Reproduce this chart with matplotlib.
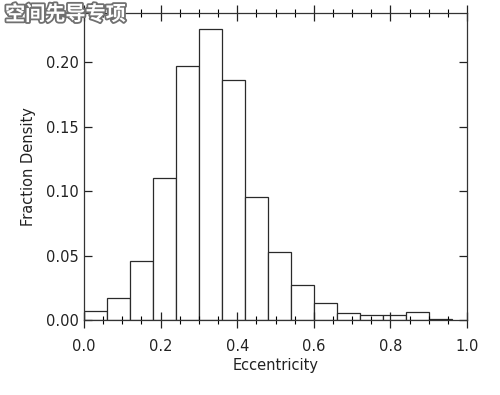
import matplotlib
matplotlib.use("Agg")
import matplotlib.pyplot as plt
import matplotlib.patheffects as pe
from matplotlib.ticker import MultipleLocator
import numpy as np

bin_edges = [0.00, 0.06, 0.12, 0.18, 0.24, 0.30, 0.36, 0.42, 0.48, 0.54,
             0.60, 0.66, 0.72, 0.78, 0.84, 0.90, 0.96]
fraction_density = [0.0068, 0.0170, 0.0459, 0.110, 0.197, 0.226, 0.186, 0.095,
                    0.053, 0.027, 0.0134, 0.0055, 0.0035, 0.0035, 0.0065, 0.0008]
x_label = "Eccentricity"
y_label = "Fraction Density"
watermark = "空间先导专项"

fig = plt.figure(figsize=(5.0, 3.95), dpi=100)
ax = fig.add_axes([0.168, 0.19, 0.766, 0.776])

edges = np.array(bin_edges)
ax.bar(edges[:-1], fraction_density, width=np.diff(edges), align='edge',
       facecolor='white', edgecolor='#2a2a2a', linewidth=0.9)

ax.set_xlim(0, 1.0)
ax.set_ylim(0, 0.2378)
ax.xaxis.set_major_locator(MultipleLocator(0.2))
ax.xaxis.set_minor_locator(MultipleLocator(0.05))
ax.yaxis.set_major_locator(MultipleLocator(0.05))
ax.xaxis.set_major_formatter(matplotlib.ticker.FormatStrFormatter('%.1f'))
ax.yaxis.set_major_formatter(matplotlib.ticker.FormatStrFormatter('%.2f'))

ax.tick_params(axis='x', which='major', direction='inout', length=11, width=0.9,
               top=True, bottom=True, labelsize=10.5, pad=8, colors='#222222')
ax.tick_params(axis='x', which='minor', direction='inout', length=6, width=0.8,
               top=True, bottom=True)
ax.tick_params(axis='y', which='major', direction='in', length=6, width=0.9,
               left=True, right=True, labelsize=10.5, pad=4, colors='#222222')
for s in ax.spines.values():
    s.set_color('#333333')
    s.set_linewidth(0.9)

ax.set_xlabel(x_label, fontsize=10.5, color='#222222', labelpad=3)
ax.set_ylabel(y_label, fontsize=10.5, color='#222222', labelpad=7)

fig.text(0.01, 0.965, watermark, family=['Noto Sans CJK SC', 'DejaVu Sans'],
         fontsize=14.5, fontweight='bold', color='white', ha='left', va='center',
         path_effects=[pe.withStroke(linewidth=2.6, foreground='#707070')])

fig.savefig('out.png', dpi=100)
